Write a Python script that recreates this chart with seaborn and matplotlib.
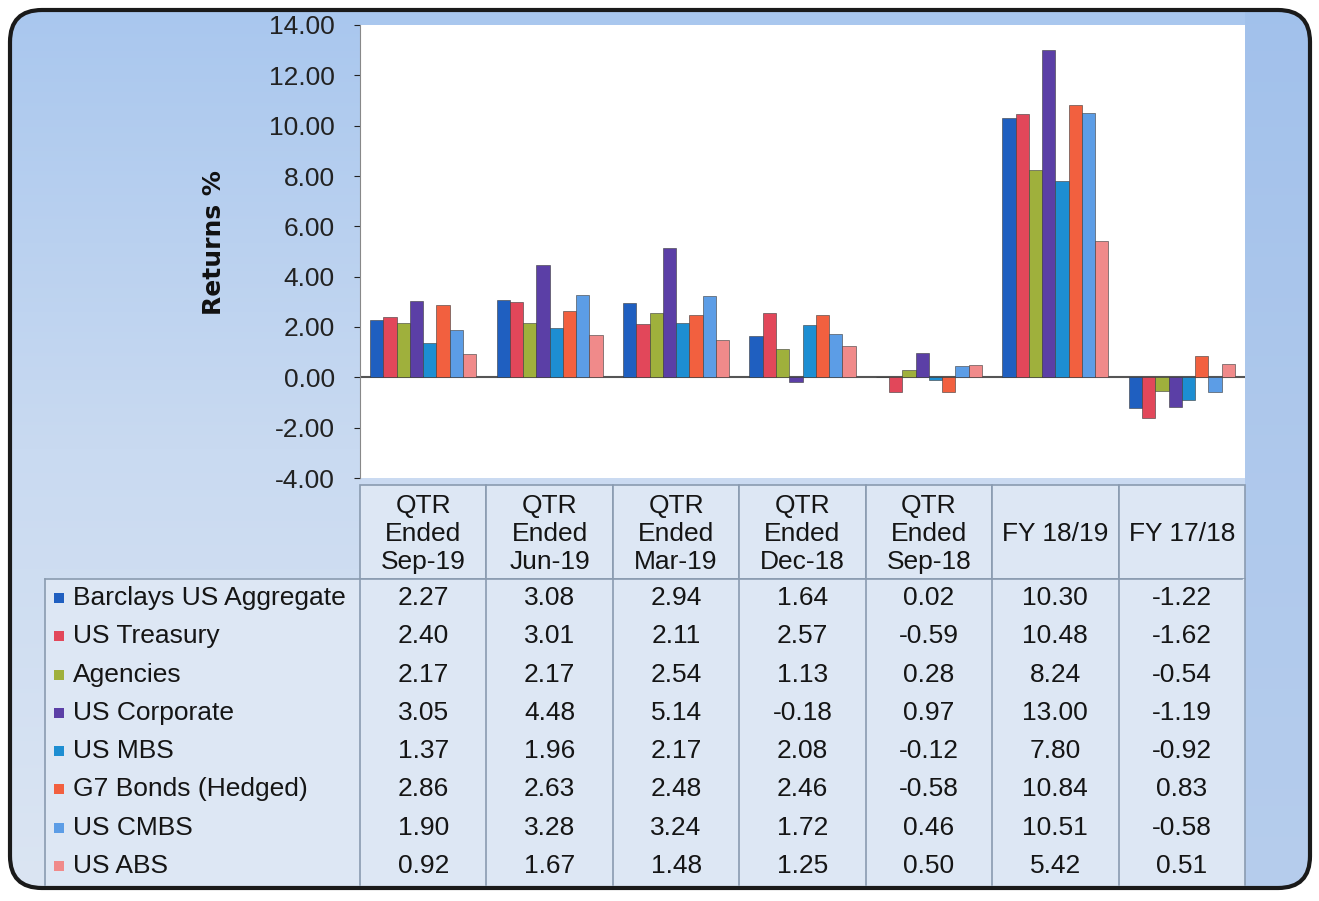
import numpy as np
import pandas as pd
import matplotlib
matplotlib.use("Agg")
import matplotlib.pyplot as plt
import seaborn as sns
from matplotlib.patches import FancyBboxPatch, Rectangle

# Data ........................................................................

periods = ["QTR\nEnded\nSep-19", "QTR\nEnded\nJun-19", "QTR\nEnded\nMar-19",
           "QTR\nEnded\nDec-18", "QTR\nEnded\nSep-18", "FY 18/19", "FY 17/18"]

series = ["Barclays US Aggregate", "US Treasury", "Agencies", "US Corporate",
          "US MBS", "G7 Bonds (Hedged)", "US CMBS", "US ABS"]

barclays_agg = [2.27, 3.08, 2.94, 1.64, 0.02, 10.30, -1.22]
us_treasury = [2.40, 3.01, 2.11, 2.57, -0.59, 10.48, -1.62]
agencies = [2.17, 2.17, 2.54, 1.13, 0.28, 8.24, -0.54]
us_corporate = [3.05, 4.48, 5.14, -0.18, 0.97, 13.00, -1.19]
us_mbs = [1.37, 1.96, 2.17, 2.08, -0.12, 7.80, -0.92]
g7_bonds = [2.86, 2.63, 2.48, 2.46, -0.58, 10.84, 0.83]
us_cmbs = [1.90, 3.28, 3.24, 1.72, 0.46, 10.51, -0.58]
us_abs = [0.92, 1.67, 1.48, 1.25, 0.50, 5.42, 0.51]

values = [barclays_agg, us_treasury, agencies, us_corporate,
          us_mbs, g7_bonds, us_cmbs, us_abs]

colors = ["#1f5fc0", "#e2475a", "#9fb03c", "#5b3fa6",
          "#1d8ed2", "#f2603f", "#5c9de6", "#f08a8a"]

# Long table for seaborn
df = pd.DataFrame({
    "period": np.tile(periods, len(series)),
    "series": np.repeat(series, len(periods)),
    "ret": np.concatenate(values),
})

# Figure ......................................................................

W, H = 1319, 901
fig = plt.figure(figsize=(W / 100, H / 100), dpi=100)
fig.patch.set_facecolor("white")
fs = 19

# Background overlay in pixel coordinates
bg = fig.add_axes([0, 0, 1, 1], zorder=0)
bg.set_xlim(0, W)
bg.set_ylim(H, 0)
bg.axis("off")

grad = np.linspace(0, 1, 256).reshape(-1, 1)
cmap = matplotlib.colors.LinearSegmentedColormap.from_list("bgc", ["#a9c7ee", "#c9daf1", "#dbe5f3"])
img = bg.imshow(grad, extent=(10, 1310, 888, 10), cmap=cmap, aspect="auto", zorder=1)
frame = FancyBboxPatch((10, 10), 1300, 878, boxstyle="round,pad=0,rounding_size=32",
                       facecolor="none", edgecolor="#1a1a1a", linewidth=3, zorder=5)
bg.add_patch(frame)
img.set_clip_path(frame)

# right-side darker band
band = Rectangle((1245, 10), 65, 878, facecolor="#9dbde9", alpha=0.6, zorder=2)
bg.add_patch(band)
band.set_clip_path(frame)

# Bar chart ...................................................................

x0, x1, y_top, y_bot = 360, 1245, 25, 478
ax = fig.add_axes([x0 / W, 1 - y_bot / H, (x1 - x0) / W, (y_bot - y_top) / H], zorder=3)
ax.set_facecolor("white")

sns.barplot(data=df, x="period", y="ret", hue="series", hue_order=series,
            order=periods, palette=colors, saturation=1, width=0.84, legend=False,
            edgecolor="#3a3a3a", linewidth=0.4, ax=ax)

ax.axhline(0, color="#555555", linewidth=1.5, zorder=0.5)
ax.set_xlim(-0.5, 6.5)
ax.set_ylim(-4, 14)
ax.set_yticks(np.arange(-4, 15, 2))
ax.yaxis.set_major_formatter(matplotlib.ticker.FormatStrFormatter("%.2f"))
ax.tick_params(axis="y", labelsize=fs, colors="#222222", length=4, pad=14)
ax.set_xticks([])
ax.set_xlabel("")
ax.set_ylabel("Returns %", fontsize=18, fontweight="bold", color="#111111")
ax.yaxis.set_label_coords(-134 / (x1 - x0), (y_bot - 243) / (y_bot - y_top))
for side in ["top", "right", "bottom"]:
    ax.spines[side].set_visible(False)
ax.spines["left"].set_color("#888888")
for lab in ax.get_yticklabels():
    lab.set_fontfamily("Liberation Sans")

# Data table ..................................................................

tb = fig.add_axes([0, 0, 1, 1], zorder=4)
tb.set_xlim(0, W)
tb.set_ylim(H, 0)
tb.axis("off")

col_w = (x1 - x0) / len(periods)
head_top, head_bot = 485, 579
row_h = 38.25
label_left = 45
line_c = "#8a9bb0"
cell_c = "#dde7f4"

# header cells
for j, p in enumerate(periods):
    cx = x0 + j * col_w
    tb.add_patch(Rectangle((cx, head_top), col_w, head_bot - head_top,
                           facecolor=cell_c, edgecolor=line_c, linewidth=1.2))
    tb.text(cx + col_w / 2, (head_top + head_bot) / 2 + 2, p, ha="center", va="center",
            fontsize=fs, family="Liberation Sans", color="#151515", linespacing=1.2)

# body cells
for i, name in enumerate(series):
    ry = head_bot + i * row_h
    tb.add_patch(Rectangle((label_left, ry), x0 - label_left, row_h,
                           facecolor=cell_c, edgecolor="none"))
    tb.add_patch(Rectangle((label_left + 9, ry + row_h / 2 - 5), 10, 10,
                           facecolor=colors[i], edgecolor="none"))
    tb.text(label_left + 28, ry + row_h / 2, name, ha="left", va="center",
            fontsize=fs, family="Liberation Sans", color="#151515")
    for j in range(len(periods)):
        cx = x0 + j * col_w
        tb.add_patch(Rectangle((cx, ry), col_w, row_h, facecolor=cell_c, edgecolor="none"))
        tb.text(cx + col_w / 2, ry + row_h / 2, f"{values[i][j]:.2f}", ha="center",
                va="center", fontsize=fs, family="Liberation Sans", color="#151515")

# grid lines of body
body_bot = head_bot + len(series) * row_h
tb.plot([label_left, x1 - 3], [head_bot, head_bot], color=line_c, lw=1.2)
tb.plot([label_left, label_left], [head_bot, body_bot], color=line_c, lw=1.2)
for j in range(len(periods) + 1):
    cx = x0 + j * col_w
    tb.plot([cx, cx], [head_bot, body_bot], color=line_c, lw=1.2)

fig.savefig("out.png", dpi=100)
